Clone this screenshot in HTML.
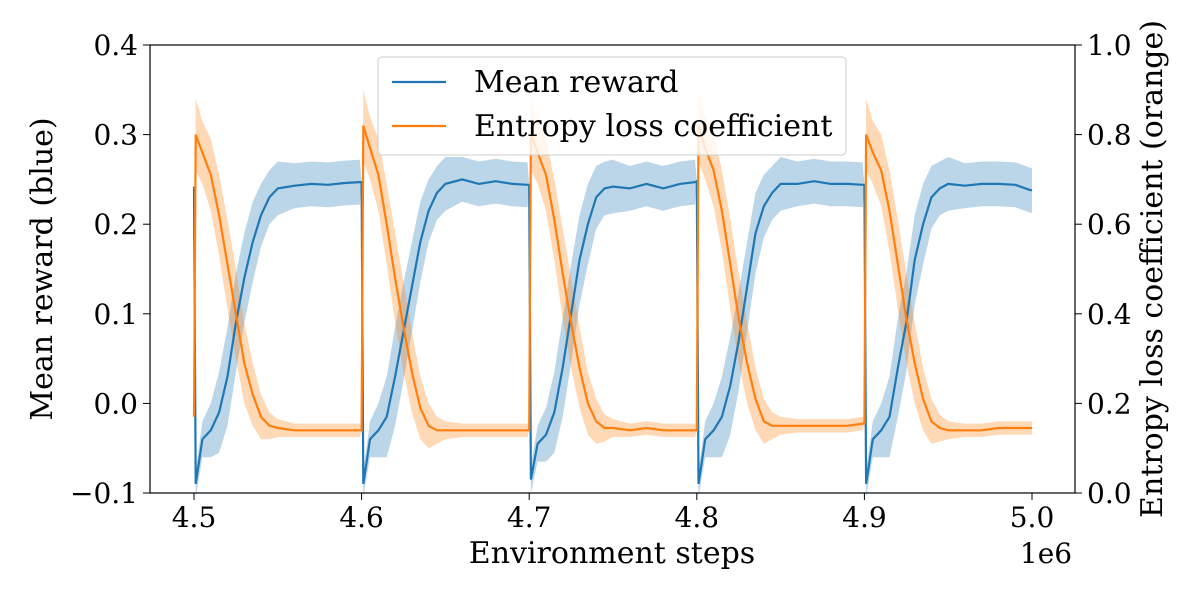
<!DOCTYPE html>
<html><head><meta charset="utf-8">
<style>
body{margin:0;background:#fff;}
svg text{font-family:"DejaVu Serif","Liberation Serif",serif;fill:#000;}
</style></head>
<body>
<svg id="chart" width="1200" height="600" viewBox="0 0 1200 600" xmlns="http://www.w3.org/2000/svg">
<g id="bands"></g><g id="lines"></g><g id="axes"></g>
</svg>
<script>
const cycleStarts = [4.5, 4.6, 4.7, 4.8, 4.9];
const offsetsK = [0,1,5,10,15,20,25,30,35,40,45,50,60,70,80,90,99];
const rewardCycles = [
 [0.242,-0.09,-0.04,-0.03,-0.01,0.03,0.09,0.14,0.18,0.21,0.23,0.24,0.243,0.245,0.244,0.246,0.247],
 [0.247,-0.09,-0.04,-0.03,-0.015,0.03,0.08,0.13,0.18,0.215,0.235,0.245,0.25,0.245,0.248,0.245,0.244],
 [0.244,-0.085,-0.045,-0.035,-0.01,0.04,0.10,0.16,0.20,0.23,0.24,0.242,0.24,0.245,0.24,0.245,0.247],
 [0.248,-0.09,-0.04,-0.03,-0.015,0.02,0.07,0.13,0.19,0.22,0.235,0.245,0.245,0.248,0.245,0.245,0.244],
 [0.244,-0.09,-0.04,-0.03,-0.015,0.04,0.09,0.16,0.20,0.23,0.24,0.245,0.243,0.245,0.245,0.244,0.238]
];
const entropyCycles = [
 [0.17,0.80,0.76,0.71,0.62,0.51,0.40,0.29,0.22,0.17,0.15,0.145,0.14,0.14,0.14,0.14,0.14],
 [0.14,0.82,0.77,0.71,0.60,0.48,0.37,0.27,0.19,0.15,0.14,0.14,0.14,0.14,0.14,0.14,0.14],
 [0.14,0.80,0.76,0.71,0.61,0.49,0.38,0.28,0.20,0.16,0.145,0.145,0.14,0.145,0.14,0.14,0.14],
 [0.14,0.82,0.77,0.72,0.63,0.51,0.39,0.29,0.21,0.16,0.15,0.15,0.15,0.15,0.15,0.15,0.155],
 [0.155,0.80,0.76,0.72,0.63,0.51,0.39,0.29,0.21,0.16,0.145,0.14,0.14,0.14,0.145,0.145,0.145]
];
const rewardSpread = [0,0.015,0.02,0.03,0.045,0.055,0.055,0.05,0.045,0.035,0.03,0.03,0.025,0.025,0.025,0.025,0.025];
const entropySpread = [0,0.08,0.07,0.08,0.09,0.10,0.10,0.09,0.07,0.05,0.03,0.02,0.015,0.015,0.015,0.015,0.015];
const xTicks = [4.5,4.6,4.7,4.8,4.9,5.0];
const xTickLabels = ["4.5","4.6","4.7","4.8","4.9","5.0"];
const yLeftTicks = [-0.1,0.0,0.1,0.2,0.3,0.4];
const yLeftLabels = ["\u22120.1","0.0","0.1","0.2","0.3","0.4"];
const yRightTicks = [0,0.2,0.4,0.6,0.8,1.0];
const yRightLabels = ["0.0","0.2","0.4","0.6","0.8","1.0"];

const L=150,R=1075,T=45,B=493;
const xS=v=>194+(v-4.5)/0.5*(1032-194);
const yL=v=>B-(v+0.1)/0.5*(B-T);
const yR=v=>B-v*(B-T);
const NS="http://www.w3.org/2000/svg";
function mk(tag,attrs,parent,txt){const e=document.createElementNS(NS,tag);for(const k in attrs)e.setAttribute(k,attrs[k]);if(txt!==undefined)e.textContent=txt;parent.appendChild(e);return e;}

const xs=[],rw=[],rs=[],en=[],es=[];
cycleStarts.forEach((c,i)=>{offsetsK.forEach((o,j)=>{xs.push(c+o/1000);rw.push(rewardCycles[i][j]);rs.push(rewardSpread[j]);en.push(entropyCycles[i][j]);es.push(entropySpread[j]);});});
xs.push(5.0);rw.push(rw[rw.length-1]);rs.push(0.025);en.push(en[en.length-1]);es.push(0.015);

const bands=document.getElementById('bands'),lines=document.getElementById('lines'),axes=document.getElementById('axes');
function band(vals,spr,ys,color,name){
 let up=xs.map((x,i)=>xS(x).toFixed(1)+','+ys(vals[i]+spr[i]).toFixed(1));
 let dn=xs.map((x,i)=>xS(x).toFixed(1)+','+ys(vals[i]-spr[i]).toFixed(1)).reverse();
 const p=mk('polygon',{points:up.concat(dn).join(' '),fill:color,'fill-opacity':0.3},bands);
 
 
}
band(rw,rs,yL,'#1f77b4','reward-band');
band(en,es,yR,'#ff7f0e','entropy-band');
const l1=mk('polyline',{points:xs.map((x,i)=>xS(x).toFixed(1)+','+yL(rw[i]).toFixed(1)).join(' '),fill:'none',stroke:'#1f77b4','stroke-width':2.2},lines);


const l2=mk('polyline',{points:xs.map((x,i)=>xS(x).toFixed(1)+','+yR(en[i]).toFixed(1)).join(' '),fill:'none',stroke:'#ff7f0e','stroke-width':2.2},lines);



mk('rect',{x:L,y:T,width:R-L,height:B-T,fill:'none',stroke:'#000','stroke-width':1.2},axes);
xTicks.forEach((v,i)=>{const x=xS(v);mk('line',{x1:x,x2:x,y1:B,y2:B+7,stroke:'#000'},axes);
 const t=mk('text',{x:x,y:B+34,'text-anchor':'middle','font-size':28},axes,xTickLabels[i]);
 
 });
yLeftTicks.forEach((v,i)=>{const y=yL(v);mk('line',{x1:L-7,x2:L,y1:y,y2:y,stroke:'#000'},axes);
 const t=mk('text',{x:L-12,y:y+10,'text-anchor':'end','font-size':28},axes,yLeftLabels[i]);
 
 });
yRightTicks.forEach((v,i)=>{const y=yR(v);mk('line',{x1:R,x2:R+7,y1:y,y2:y,stroke:'#000'},axes);
 const t=mk('text',{x:R+12,y:y+10,'text-anchor':'start','font-size':28},axes,yRightLabels[i]);
 
 });
</script>
<svg width="1200" height="600" style="position:absolute;left:0;top:0" xmlns="http://www.w3.org/2000/svg">
<text x="612" y="563" text-anchor="middle" font-size="30">Environment steps</text>
<text x="1046" y="563" text-anchor="middle" font-size="28">1e6</text>
<text transform="translate(52,269) rotate(-90)" text-anchor="middle" font-size="30">Mean reward (blue)</text>
<text transform="translate(1162,269) rotate(-90)" text-anchor="middle" font-size="30">Entropy loss coefficient (orange)</text>
<g>
<rect x="378" y="57" width="468" height="98" rx="4" fill="#fff" fill-opacity="0.8" stroke="#ccc"/>
<line x1="392" x2="446" y1="82" y2="82" stroke="#1f77b4" stroke-width="2.2"/>
<text x="474" y="92" font-size="30">Mean reward</text>
<line x1="392" x2="446" y1="126" y2="126" stroke="#ff7f0e" stroke-width="2.2"/>
<text x="474" y="136" font-size="30">Entropy loss coefficient</text>
</g>
</svg>
</body></html>
